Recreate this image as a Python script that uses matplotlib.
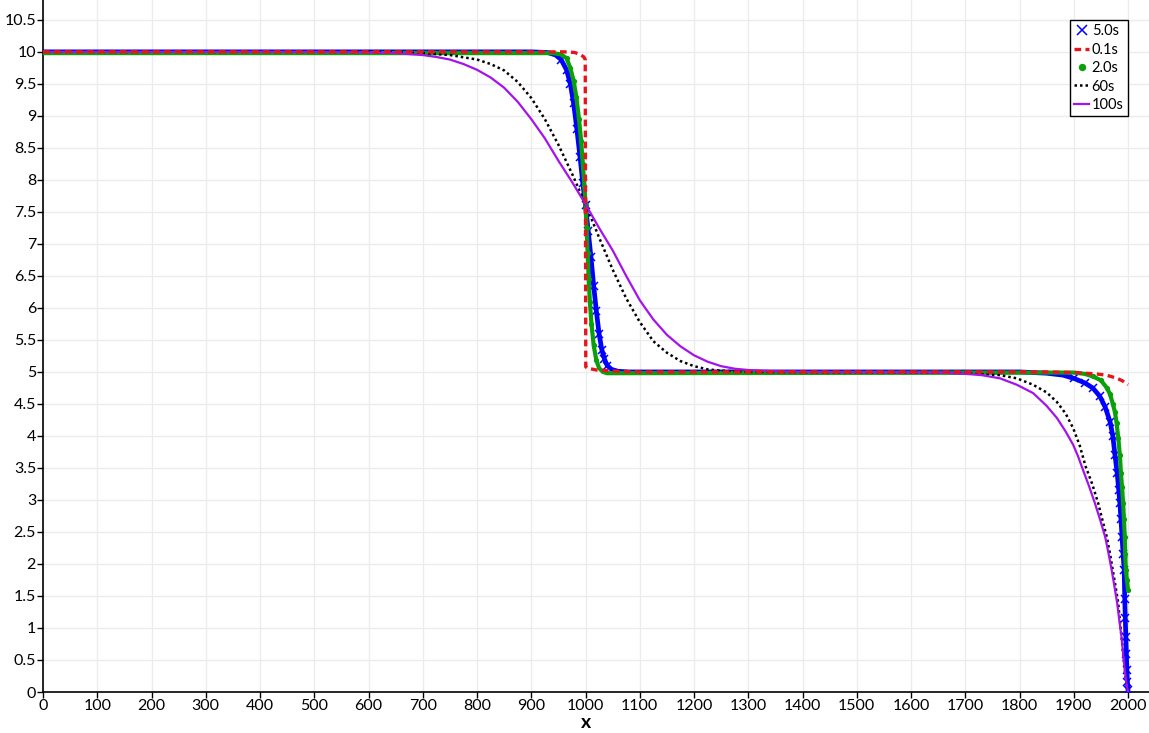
import numpy as np
import matplotlib.pyplot as plt

# profiles at the five output times
x_5s = [0, 900, 930, 945, 955, 965, 972, 978, 984, 990, 995, 1000, 1005, 1010, 1015, 1020, 1025,
        1030, 1035, 1040, 1048, 1060, 1080, 1800, 1850, 1880, 1900, 1920, 1935, 1948, 1958, 1967,
        1972, 1976, 1980, 1983, 1985, 1987, 1989, 1991, 1993, 1994, 1995, 1996, 1997, 1998, 1999,
        2000]
y_5s = [10.0, 10.0, 9.99, 9.95, 9.88, 9.72, 9.5, 9.2, 8.8, 8.35, 7.95, 7.6, 7.2, 6.8, 6.35, 5.95,
        5.6, 5.35, 5.2, 5.1, 5.04, 5.01, 5.0, 5.0, 4.98, 4.95, 4.9, 4.83, 4.75, 4.62, 4.45, 4.22,
        4.0, 3.7, 3.42, 3.15, 2.95, 2.7, 2.42, 2.15, 1.9, 1.45, 1.15, 0.86, 0.6, 0.34, 0.15,
        0.03]

x_01s = [0, 940, 960, 980, 990, 997, 999.5, 1000.5, 1003, 1020, 1060, 1100, 1850, 1900, 1940,
         1960, 1980, 1990, 2000]
y_01s = [10.0, 10.0, 10.0, 9.99, 9.96, 9.92, 9.88, 5.08, 5.06, 5.03, 5.01, 5.0, 5.0, 4.99, 4.97,
         4.95, 4.9, 4.86, 4.8]

x_2s = [0, 940, 955, 965, 972, 978, 983, 988, 992, 995, 998, 1000, 1002, 1004, 1006, 1008, 1011,
        1015, 1020, 1025, 1032, 1040, 1900, 1920, 1935, 1950, 1961, 1967, 1972, 1976, 1979, 1982,
        1985, 1987, 1989, 1991, 1992.5, 1994, 1995, 1996, 1998, 2000]
y_2s = [9.98, 9.98, 9.96, 9.9, 9.75, 9.55, 9.3, 8.95, 8.6, 8.25, 7.9, 7.6, 7.25, 6.85, 6.45, 6.1,
        5.75, 5.42, 5.18, 5.06, 5.0, 4.98, 4.99, 4.97, 4.93, 4.87, 4.75, 4.65, 4.5, 4.37, 4.2,
        3.97, 3.7, 3.42, 3.2, 2.95, 2.7, 2.42, 2.15, 1.9, 1.75, 1.6]

x_60s = [0, 600, 650, 700, 750, 800, 825, 850, 875, 900, 925, 950, 975, 1000, 1025, 1050, 1075,
         1100, 1125, 1150, 1175, 1200, 1225, 1250, 1300, 1650, 1700, 1764, 1795, 1825, 1850, 1869,
         1885, 1899, 1911, 1922, 1934, 1945, 1953, 1961, 1967, 1972, 1977, 1982, 1985, 1988, 1991,
         1994, 1997, 2000]
y_60s = [10.0, 10.0, 9.99, 9.98, 9.95, 9.88, 9.81, 9.71, 9.53, 9.28, 8.95, 8.55, 8.1, 7.62, 7.1,
         6.6, 6.15, 5.78, 5.48, 5.3, 5.17, 5.09, 5.04, 5.02, 5.0, 4.99, 4.98, 4.95, 4.9, 4.8, 4.68,
         4.53, 4.35, 4.12, 3.85, 3.52, 3.25, 2.95, 2.68, 2.42, 2.15, 1.9, 1.65, 1.39, 1.12, 0.86,
         0.6, 0.34, 0.15, 0.0]

x_100s = [0, 500, 600, 650, 700, 725, 750, 775, 800, 825, 850, 875, 900, 925, 950, 975, 1000,
          1025, 1050, 1075, 1100, 1125, 1150, 1175, 1200, 1225, 1250, 1275, 1300, 1350, 1400,
          1650, 1700, 1730, 1764, 1795, 1825, 1850, 1869, 1885, 1899, 1908, 1917, 1928, 1939,
          1949, 1958, 1964, 1970, 1975, 1980, 1984, 1988, 1991, 1994, 1997, 2000]
y_100s = [10.0, 10.0, 9.99, 9.98, 9.95, 9.92, 9.88, 9.81, 9.72, 9.6, 9.44, 9.22, 8.95, 8.65, 8.3,
          7.97, 7.62, 7.25, 6.9, 6.5, 6.12, 5.82, 5.58, 5.4, 5.26, 5.16, 5.09, 5.05, 5.03, 5.01,
          5.0, 4.99, 4.97, 4.95, 4.9, 4.8, 4.67, 4.47, 4.28, 4.07, 3.86, 3.68, 3.47, 3.22, 2.95,
          2.68, 2.42, 2.17, 1.9, 1.65, 1.39, 1.12, 0.86, 0.6, 0.34, 0.15, 0.0]

x_ticks = np.arange(0, 2001, 100)
y_ticks = np.arange(0, 10.51, 0.5)

plt.rcParams['font.family'] = ['Lato', 'DejaVu Sans']


def steep(ys):
    # only mark points off the two plateaus, where single points show up
    ys = np.asarray(ys)
    return list(np.nonzero((np.abs(ys - 10) > 0.06) & (np.abs(ys - 5) > 0.06))[0])


fig = plt.figure(figsize=(11.49, 7.33), dpi=100)
ax = fig.add_axes([43 / 1149, 41 / 733, 1106 / 1149, 692 / 733])

blue = '#0000ff'
green = '#0aa00a'
# 5.0s and 2.0s are point series: a thick band plus the point markers
ax.plot(x_5s, y_5s, color=blue, lw=3.4, zorder=3)
ax.plot(x_5s, y_5s, color=blue, ls='none', marker='x', ms=5.5, mew=1.1, markevery=steep(y_5s),
        label='5.0s', zorder=3)
ax.plot(x_01s, y_01s, color='#e8141c', lw=2.4, ls=(0, (2.0, 1.3)), label='0.1s', zorder=6)
ax.plot(x_2s, y_2s, color=green, lw=3.0, zorder=4)
ax.plot(x_2s, y_2s, color=green, ls='none', marker='o', ms=3.8, mew=0, markevery=steep(y_2s),
        label='2.0s', zorder=4)
ax.plot(x_60s, y_60s, color='black', lw=1.8, ls=(0, (1, 1.2)), label='60s', zorder=5)
ax.plot(x_100s, y_100s, color='#a412ee', lw=1.6, label='100s', zorder=5)

xmax = 2038.7
ax.set_xlim(0, xmax)
ax.set_ylim(0, 10.81)
ax.set_xticks(x_ticks)
ax.set_xticklabels([f'{v:g}' for v in x_ticks])
ax.set_yticks(y_ticks)
ax.set_yticklabels([f'{v:g}' for v in y_ticks])
ax.tick_params(labelsize=11.5, length=4, width=1, direction='out', pad=1)
ax.grid(True, color='#ececec', lw=1)
ax.set_axisbelow(True)
for side in ('top', 'right'):
    ax.spines[side].set_visible(False)
for side in ('left', 'bottom'):
    ax.spines[side].set_linewidth(1.2)

# axis title centred under the 0..2000 span
ax.set_xlabel('x', fontsize=14, fontweight='bold')
ax.xaxis.label.set_verticalalignment('center')
ax.xaxis.set_label_coords(1000 / xmax, -30 / 692)

leg = ax.legend(loc='upper right', bbox_to_anchor=(0.981, 0.971), fontsize=10.5,
                handlelength=1.0, handletextpad=0.2, borderpad=0.3, labelspacing=0.3,
                borderaxespad=0, fancybox=False, framealpha=1, edgecolor='black', markerscale=1.4)
leg.get_frame().set_linewidth(1.0)

fig.savefig('out.png', dpi=100)
